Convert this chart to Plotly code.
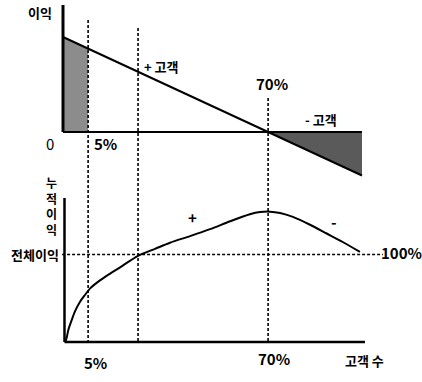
import numpy as np
import plotly.graph_objects as go

# ---------------- data ----------------
# customer position (schematic scale, 0 = first customer, 100 = last)
mark_pos = [8.4, 25.1, 68.6]          # 5%, break-even of cumulative, 70%
mark_labels = ["5%", "", "70%"]

# top panel: profit per customer (straight line)
profit_pos = [0, 68.6, 100]
profit_val = [1.0, 0.0, -0.458]

# bottom panel: cumulative profit (% of total profit)
cum_pos = [0.8, 1.3, 1.8, 2.9, 4.0, 5.7, 7.4, 9.0, 11.8, 15.2, 19.6, 25.1,
           30.8, 35.8, 42.5, 49.2, 55.9, 62.5, 65.9, 69.2, 72.6, 76.9, 82.6, 88.2, 93.7, 99.3]
cum_val = [0, 6, 14, 25, 35, 46, 54, 61, 69, 77, 86.5, 98.5,
           106.5, 113.5, 121, 129, 138, 146, 148.5, 149, 147.5, 143, 134, 124, 114, 103]
total_profit = 100

# ---------------- layout helpers ----------------
W, H = 422, 382
FONT = "Noto Sans CJK KR, Noto Sans, sans-serif"
X_RANGE = [-21.07, 120.07]
Y1_RANGE = [-2.6316, 1.3895]
Y2_RANGE = [-45.71, 390.86]


def px_x(px):
    return px / W


def px_y(py):
    return 1 - py / H


def y2_from_px(py):
    return (342 - py) / 0.875


fig = go.Figure()
DASH = "3px,2px"

# left shaded area (profitable top 5%)
x5 = mark_pos[0]
left_x = [0, 0, x5, x5]
left_y = [0, profit_val[0], float(np.interp(x5, profit_pos, profit_val)), 0]
fig.add_trace(go.Scatter(x=left_x, y=left_y, fill="toself", mode="none",
                         fillcolor="#8c8c8c", hoverinfo="skip", showlegend=False))

# right shaded area (loss-making customers)
right_x = [profit_pos[1], profit_pos[2], profit_pos[2]]
right_y = [0, profit_val[2], 0]
fig.add_trace(go.Scatter(x=right_x, y=right_y, fill="toself", mode="none",
                         fillcolor="#5a5a5a", hoverinfo="skip", showlegend=False))

# top axes
fig.add_trace(go.Scatter(x=[0, 0], y=[0, 1.337], mode="lines",
                         line=dict(color="black", width=3), showlegend=False, hoverinfo="skip"))
fig.add_trace(go.Scatter(x=[0, profit_pos[-1]], y=[0, 0], mode="lines",
                         line=dict(color="black", width=2), showlegend=False, hoverinfo="skip"))

# profit line
fig.add_trace(go.Scatter(x=profit_pos, y=profit_val, mode="lines",
                         line=dict(color="black", width=2), showlegend=False, hoverinfo="skip"))

# bottom axes
fig.add_trace(go.Scatter(x=[0.5, 0.5], y=[0, y2_from_px(198)], mode="lines", yaxis="y2",
                         line=dict(color="black", width=2.5), showlegend=False, hoverinfo="skip"))
fig.add_trace(go.Scatter(x=[0.5, 101], y=[0, 0], mode="lines", yaxis="y2",
                         line=dict(color="black", width=2.5), showlegend=False, hoverinfo="skip"))

# vertical dashed guides
tops = [20, 28, 98]
for xp, top in zip(mark_pos, tops):
    fig.add_trace(go.Scatter(x=[xp, xp], y=[y2_from_px(top), 0], mode="lines", yaxis="y2",
                             line=dict(color="black", width=1.6, dash=DASH),
                             showlegend=False, hoverinfo="skip"))

# horizontal dashed total-profit line
fig.add_trace(go.Scatter(x=[-0.3, 107], y=[total_profit, total_profit], mode="lines", yaxis="y2",
                         line=dict(color="black", width=1.6, dash=DASH),
                         showlegend=False, hoverinfo="skip"))

# cumulative profit curve
fig.add_trace(go.Scatter(x=cum_pos, y=cum_val, mode="lines", yaxis="y2",
                         line=dict(color="black", width=2, shape="spline", smoothing=0.8),
                         showlegend=False, hoverinfo="skip"))

# ---------------- annotations ----------------
def ann(text, px, py, size=14, weight="bold"):
    fig.add_annotation(text=text, x=px_x(px), y=px_y(py), xref="paper", yref="paper",
                       showarrow=False,
                       font=dict(family=FONT, size=size, color="black", weight=weight),
                       xanchor="center", yanchor="middle")


ann("이익", 40, 12, 13)
ann("0", 50, 143, 15, "normal")
ann(mark_labels[0], 105, 144, 15)
ann("+ 고객", 161, 66, 13)
ann(mark_labels[2], 272, 83, 15)
ann("- 고객", 321, 119, 13)
ann("누<br>적<br>이<br>익", 51, 206, 12)
ann("전체이익", 35, 255, 13)
ann("+", 192, 217, 15)
ann("-", 334, 221, 15)
ann("100%", 401, 252, 15)
ann(mark_labels[0], 95, 362, 15)
ann(mark_labels[2], 274, 358, 15)
ann("고객 수", 364, 360, 13)

fig.update_layout(
    width=W, height=H, autosize=False,
    margin=dict(l=0, r=0, t=0, b=0),
    paper_bgcolor="white", plot_bgcolor="white",
    xaxis=dict(range=X_RANGE, domain=[0, 1], visible=False, fixedrange=True),
    yaxis=dict(range=Y1_RANGE, domain=[0, 1], visible=False, fixedrange=True),
    yaxis2=dict(range=Y2_RANGE, overlaying="y", visible=False, fixedrange=True),
    showlegend=False,
)

fig.write_html("out.html", config={"displayModeBar": False},
               post_script="document.body.style.margin='0px';")
